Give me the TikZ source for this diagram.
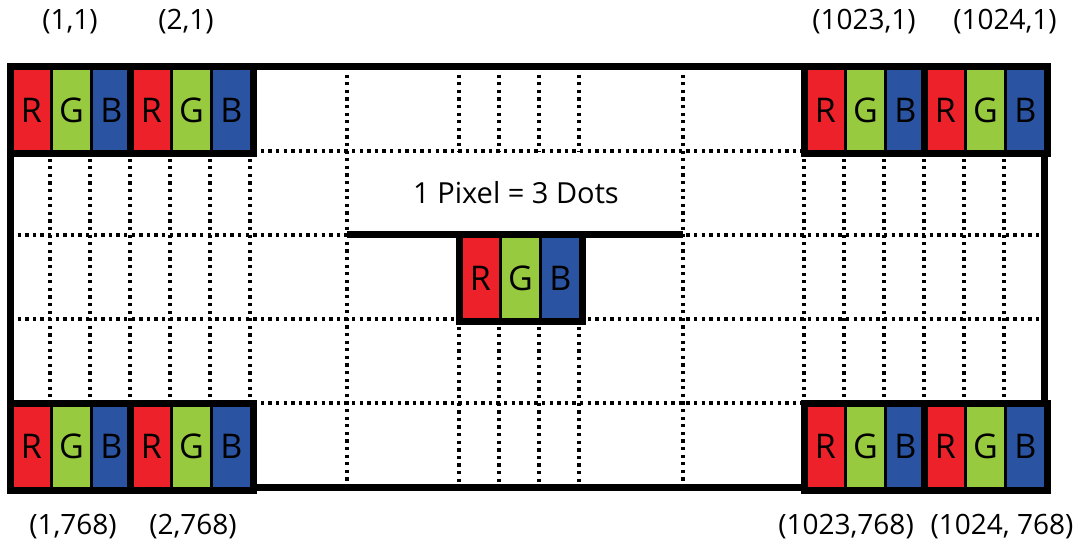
\documentclass[tikz,border=0pt]{standalone}
\usepackage{fontspec}
\setmainfont{Open Sans}
\definecolor{dotred}{HTML}{ED2129}
\definecolor{dotgreen}{HTML}{98CA3F}
\definecolor{dotblue}{HTML}{2A53A1}
\begin{document}
\begin{tikzpicture}[x=1pt, y=-1pt, node distance=40pt]
    \tikzstyle{dotcell} = [rectangle, draw=black, line width=3pt, minimum width=40pt, minimum height=84pt, inner sep=0pt, font=\fontsize{34}{34}\selectfont]
    \tikzstyle{dotR} = [dotcell, fill=dotred]
    \tikzstyle{dotG} = [dotcell, fill=dotgreen]
    \tikzstyle{dotB} = [dotcell, fill=dotblue]
    \tikzstyle{pixbox} = [draw=black, line width=7pt]
    \tikzstyle{gridline} = [line width=3.3pt, dash pattern=on 3.3pt off 4.3pt]
    \tikzstyle{coord} = [font=\fontsize{28}{30}\selectfont]

    \useasboundingbox (0,0) rectangle (1080,548);

    % Grid
    \foreach \y in {151,235,319,403}
        \draw[gridline] (10,\y) -- (1044,\y);
    \foreach \x in {50,90,...,250,804,844,...,1004}
        \draw[gridline] (\x,151) -- (\x,403);
    \foreach \x in {347,683}
        \draw[gridline] (\x,67) -- (\x,487);
    \foreach \x in {459,499,...,579} {
        \draw[gridline] (\x,67) -- (\x,151);
        \draw[gridline] (\x,319) -- (\x,487);
    }

    % Screen
    \draw[line width=7pt] (10,67) rectangle (1044,487);
    \draw[line width=7pt] (347,235) -- (683,235);
    \node (caption) at (516,193) {\fontsize{29}{31}\selectfont 1 Pixel = 3 Dots};

    % Corner pixels
    \foreach \bx/\by/\nm in {10/67/tl, 804/67/tr, 10/403/bl, 804/403/br} {
        \foreach \p in {0,1} {
            \node[dotR, anchor=north west] (\nm\p R) at (\bx+\p*120,\by) {R};
            \node[dotG] (\nm\p G) [right of=\nm\p R] {G};
            \node[dotB] (\nm\p B) [right of=\nm\p G] {B};
            \draw[pixbox] (\nm\p R.north west) rectangle (\nm\p B.south east);
        }
    }

    % Centre pixel
    \node[dotR, anchor=north west] (cR) at (459,235) {R};
    \node[dotG] (cG) [right of=cR] {G};
    \node[dotB] (cB) [right of=cG] {B};
    \draw[pixbox] (cR.north west) rectangle (cB.south east);

    % Labels
    \node[coord] (p11) at (70,22) {(1,1)};
    \node[coord] (p21) at (186,22) {(2,1)};
    \node[coord] (p10231) at (864,22) {(1023,1)};
    \node[coord] (p10241) at (1005,22) {(1024,1)};
    \node[coord] (p1768) at (73,527) {(1,768)};
    \node[coord] (p2768) at (193,527) {(2,768)};
    \node[coord] (p1023768) at (846,527) {(1023,768)};
    \node[coord] (p1024768) at (1002,527) {(1024, 768)};

\end{tikzpicture}
\end{document}
